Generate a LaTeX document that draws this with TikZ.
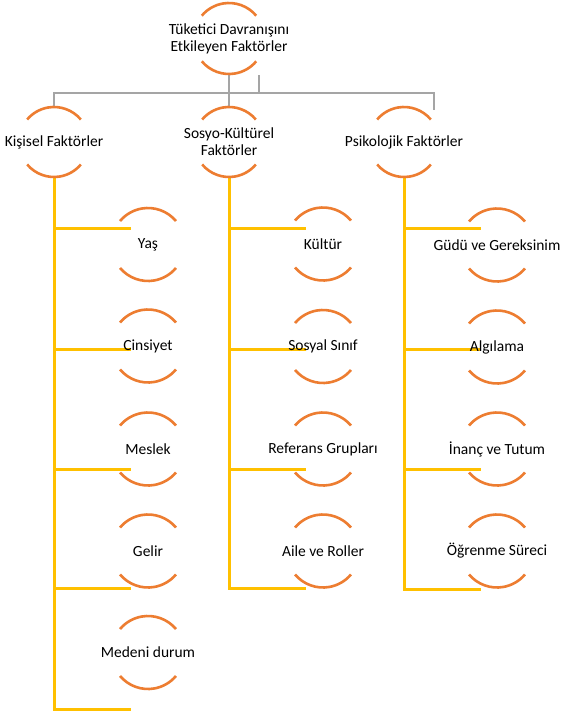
\documentclass[tikz,border=0pt]{standalone}
\usepackage{fontspec}
\setmainfont{Carlito}
\usetikzlibrary{backgrounds}
\definecolor{arcorange}{HTML}{ED7D31}
\definecolor{branchyellow}{HTML}{FFC000}
\definecolor{linegray}{HTML}{A5A5A5}
\newcommand\ringarcs[2]{%
  \draw[arcline] (#1.center) ++(40:#2) arc[start angle=40,end angle=140,radius=#2];
  \draw[arcline] (#1.center) ++(220:#2) arc[start angle=220,end angle=320,radius=#2];}
\begin{document}
\begin{tikzpicture}[x=1pt,y=1pt,
  lbl/.style={inner sep=0pt, align=center, font=\fontsize{15.5}{17}\selectfont, text=black},
  ringbig/.style={circle, inner sep=0pt, minimum size=71pt},
  ringsmall/.style={circle, inner sep=0pt, minimum size=73pt},
  arcline/.style={draw=arcorange, line width=2.6pt},
  grayline/.style={draw=linegray, line width=2.8pt},
  yline/.style={draw=branchyellow, line width=3pt},
]
\useasboundingbox (0,0) rectangle (560,-712);

% level 0 and 1 rings
\node[ringbig] (top) at (229,-38.5) {};
\node[ringbig] (kis) at (54,-142) {};
\node[ringbig] (sos) at (229,-142) {};
\node[ringbig] (psi) at (404,-142) {};

% children rings
\node[ringsmall] (k1) at (148,-244.5) {};
\node[ringsmall] (k2) at (148,-346) {};
\node[ringsmall] (k3) at (148,-449) {};
\node[ringsmall] (k4) at (148,-551) {};
\node[ringsmall] (k5) at (148,-652.5) {};
\node[ringsmall] (s1) at (323,-244) {};
\node[ringsmall] (s2) at (323,-346.5) {};
\node[ringsmall] (s3) at (323,-449) {};
\node[ringsmall] (s4) at (323,-551) {};
\node[ringsmall] (p1) at (497,-245) {};
\node[ringsmall] (p2) at (497,-347) {};
\node[ringsmall] (p3) at (497,-449) {};
\node[ringsmall] (p4) at (497,-551) {};

% branch end coordinates
\coordinate (hubR) at (434,-93);
\coordinate (hubRend) at (434,-110);
\coordinate (stubA) at (259,-75);
\coordinate (stubB) at (259,-93);
\coordinate (kE1) at (131,-228);
\coordinate (kE2) at (131,-349);
\coordinate (kE3) at (131,-469);
\coordinate (kE4) at (131,-588);
\coordinate (kE5) at (131,-709);
\coordinate (sE1) at (306,-228);
\coordinate (sE2) at (306,-349);
\coordinate (sE3) at (306,-469);
\coordinate (sE4) at (306,-588);
\coordinate (pE1) at (481,-228);
\coordinate (pE2) at (481,-349);
\coordinate (pE3) at (481,-469);
\coordinate (pE4) at (481,-589);

% labels
\node[lbl] (topt) at (top) {Tüketici Davranışını\\Etkileyen Faktörler};
\node[lbl] (kist) at (kis) {Kişisel Faktörler};
\node[lbl] (sost) at (sos) {Sosyo-Kültürel\\Faktörler};
\node[lbl] (psit) at (psi) {Psikolojik Faktörler};
\node[lbl] (k1t) at (k1) {Yaş};
\node[lbl] (k2t) at (k2) {Cinsiyet};
\node[lbl] (k3t) at (k3) {Meslek};
\node[lbl] (k4t) at (k4) {Gelir};
\node[lbl] (k5t) at (k5) {Medeni durum};
\node[lbl] (s1t) at (s1) {Kültür};
\node[lbl] (s2t) at (s2) {Sosyal Sınıf};
\node[lbl] (s3t) at (s3) {Referans Grupları};
\node[lbl] (s4t) at (s4) {Aile ve Roller};
\node[lbl] (p1t) at (p1) {Güdü ve Gereksinim};
\node[lbl] (p2t) at (p2) {Algılama};
\node[lbl] (p3t) at (p3) {İnanç ve Tutum};
\node[lbl] (p4t) at (p4) {Öğrenme Süreci};

% arcs
\ringarcs{top}{35.5}
\ringarcs{kis}{35}
\ringarcs{sos}{35}
\ringarcs{psi}{35}
\foreach \n in {k1,k2,k3,k4,k5,s1,s2,s3,s4,p1,p2,p3,p4} {\ringarcs{\n}{36.5}}

\begin{pgfonlayer}{background}
  \fill[white] (0,0) rectangle (560,-712);
  % gray hierarchy
  \draw[grayline] (kis.north) |- (hubR) -- (hubRend);
  \draw[grayline] (top.south) -- (sos.north);
  \draw[grayline] (stubA) -- (stubB);
  % yellow branches
  \draw[yline] (kis.south) |- (kE5);
  \foreach \e in {kE1,kE2,kE3,kE4} {\draw[yline] (kis.south |- \e) -- (\e);}
  \draw[yline] (sos.south) |- (sE4);
  \foreach \e in {sE1,sE2,sE3} {\draw[yline] (sos.south |- \e) -- (\e);}
  \draw[yline] (psi.south) |- (pE4);
  \foreach \e in {pE1,pE2,pE3} {\draw[yline] (psi.south |- \e) -- (\e);}
\end{pgfonlayer}
\end{tikzpicture}
\end{document}
